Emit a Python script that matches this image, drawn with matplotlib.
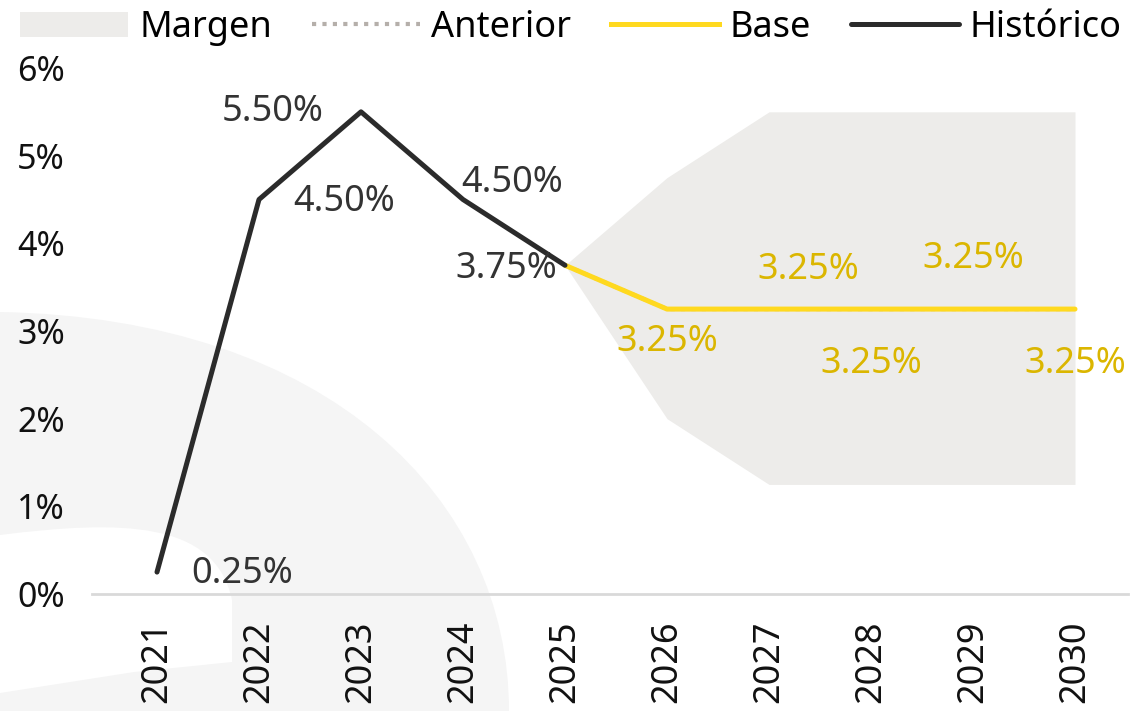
import matplotlib
matplotlib.use("Agg")
import matplotlib.pyplot as plt
from matplotlib.patches import Patch, PathPatch, Polygon
from matplotlib.lines import Line2D
from matplotlib.path import Path

plt.rcParams['font.family'] = ['Noto Sans', 'DejaVu Sans']

# ---------------- data ----------------
years = [2021, 2022, 2023, 2024, 2025, 2026, 2027, 2028, 2029, 2030]
hist_years = [2021, 2022, 2023, 2024, 2025]
hist_values = [0.25, 4.50, 5.50, 4.50, 3.75]
base_years = [2025, 2026, 2027, 2028, 2029, 2030]
base_values = [3.75, 3.25, 3.25, 3.25, 3.25, 3.25]
anterior_values = [3.75, 3.25, 3.25, 3.25, 3.25, 3.25]
margin_upper = [3.75, 4.75, 5.50, 5.50, 5.50, 5.50]
margin_lower = [3.75, 2.00, 1.25, 1.25, 1.25, 1.25]
y_ticks = [0, 1, 2, 3, 4, 5, 6]
legend_labels = ["Margen", "Anterior", "Base", "Histórico"]

# label offsets in pixels (style)
hist_offsets = [(85, -2), (85, -2), (-88, 0), (49, 16), (-59, -4)]
base_offsets = [(0, -33), (39, 39), (0, -55), (0, 50), (0, -55)]

C_HIST = "#2b2b2b"
C_HIST_TXT = "#333333"
C_BASE = "#FFD91F"
C_BASE_TXT = "#DBB600"
C_BAND = "#EDECEA"
C_ANT = "#B5AFAA"
C_WM = "#F5F5F5"

W, H = 1133, 711
fig = plt.figure(figsize=(W / 100, H / 100), dpi=100)

# ---- faint watermark background (decoration, pixel coords) ----
def px(x, y):
    return (x / W, 1 - y / H)

verts = [px(0, 312), px(330, 318), px(509, 500), px(509, 711),
         px(232, 711),
         px(232, 600), px(215, 520), px(120, 520), px(0, 535),
         px(0, 312)]
codes = [Path.MOVETO, Path.CURVE4, Path.CURVE4, Path.CURVE4,
         Path.LINETO,
         Path.LINETO, Path.CURVE4, Path.CURVE4, Path.CURVE4,
         Path.CLOSEPOLY]
fig.patches.append(PathPatch(Path(verts, codes), facecolor=C_WM, edgecolor='none',
                             transform=fig.transFigure, zorder=-5))
fig.patches.append(Polygon([px(0, 693), px(134, 672), px(232, 662), px(232, 711), px(0, 711)],
                           closed=True, facecolor=C_WM, edgecolor='none',
                           transform=fig.transFigure, zorder=-5))

ax = fig.add_axes([92 / W, 1 - 594 / H, (1128 - 92) / W, (594 - 68) / H])
ax.set_facecolor('none')
ax.set_zorder(1)

x0 = 2021 - (157 - 92) / 102
x1 = 2030 + (1128 - 1075) / 102
ax.set_xlim(x0, x1)
ax.set_ylim(0, 6)

ax.fill_between(base_years, margin_lower, margin_upper, color=C_BAND, linewidth=0, zorder=1)
ax.plot(base_years, anterior_values, color=C_ANT, linestyle=(0, (1, 1.5)), linewidth=3, zorder=2)
ax.plot(base_years, base_values, color=C_BASE, linewidth=3.6, solid_capstyle='round', zorder=3)
ax.plot(hist_years, hist_values, color=C_HIST, linewidth=3.6, solid_capstyle='round', zorder=4)

for xv, yv, (dx, dy) in zip(hist_years, hist_values, hist_offsets):
    ax.annotate(f"{yv:.2f}%", (xv, yv), xytext=(dx, dy), textcoords='offset pixels',
                ha='center', va='center', fontsize=26, color=C_HIST_TXT, zorder=5)
for xv, yv, (dx, dy) in zip(base_years[1:], base_values[1:], base_offsets):
    ax.annotate(f"{yv:.2f}%", (xv, yv), xytext=(dx, dy), textcoords='offset pixels',
                ha='center', va='center', fontsize=26, color=C_BASE_TXT, zorder=5)

for s in ['top', 'right', 'left']:
    ax.spines[s].set_visible(False)
ax.spines['bottom'].set_color('#D9D9D9')
ax.spines['bottom'].set_linewidth(2)

ax.set_yticks(y_ticks)
ax.set_yticklabels([f"{v}%" for v in y_ticks])
ax.set_xticks(years)
ax.set_xticklabels([str(y) for y in years], rotation=90)
ax.tick_params(axis='y', length=0, labelsize=24.5, pad=0, labelcolor='#111111')
ax.tick_params(axis='x', length=0, labelsize=26, pad=19, labelcolor='#111111')
for lbl in ax.get_yticklabels():
    lbl.set_horizontalalignment('left')
    lbl.set_x(-75 / (1128 - 92))
for lbl in ax.get_xticklabels():
    lbl.set_verticalalignment('top')

handles = [
    Patch(facecolor=C_BAND, edgecolor='none'),
    Line2D([0], [0], color=C_ANT, linestyle=(0, (1, 1.5)), linewidth=3),
    Line2D([0], [0], color=C_BASE, linewidth=3.6),
    Line2D([0], [0], color=C_HIST, linewidth=3.6, solid_capstyle='round'),
]
fig.legend(handles, legend_labels, loc='center right', bbox_to_anchor=(1122 / W, 1 - 28 / H),
           ncol=4, frameon=False, fontsize=26, handlelength=3.0, handleheight=0.7,
           handletextpad=0.3, columnspacing=1.1, borderaxespad=0, borderpad=0)

fig.savefig("out.png", dpi=100)
